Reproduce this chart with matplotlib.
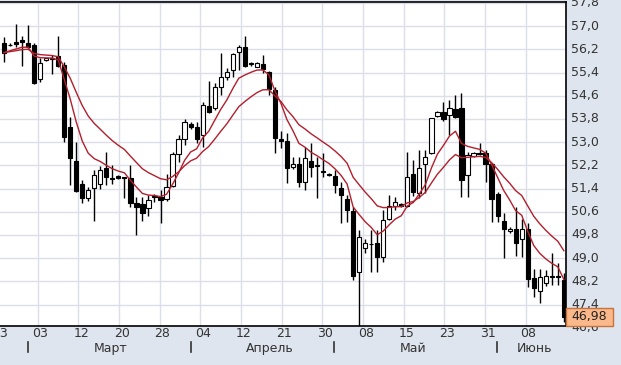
import numpy as np
import pandas as pd
import matplotlib
matplotlib.use("Agg")
import matplotlib.pyplot as plt
import matplotlib.transforms as mtransforms
from matplotlib.patches import Rectangle

# daily candles
opens = [56.43, 56.36, 56.44, 56.52, 56.43, 56.35, 55.17, 55.82, 55.90, 55.97,
         55.66, 53.53, 52.35, 51.55, 51.07, 51.42, 51.56, 52.12, 51.76, 51.83,
         51.78, 51.75, 50.91, 50.87, 50.72, 51.15, 51.12, 51.04, 51.50, 52.59,
         53.11, 53.63, 53.53, 53.25, 54.25, 54.17, 54.91, 55.24, 55.49, 56.10,
         56.29, 55.70, 55.60, 55.69, 55.41, 54.80, 53.11, 53.04, 52.15, 52.25,
         51.64, 52.35, 52.20, 51.99, 51.90, 51.84, 51.41, 51.04, 50.63, 48.51,
         49.34, 49.50, 49.51, 49.05, 50.34, 50.81, 50.86, 50.80, 51.89, 51.26,
         52.24, 52.62, 53.90, 54.03, 53.94, 54.13, 54.17, 51.87, 52.52, 52.64,
         52.64, 52.24, 51.21, 50.29, 49.93, 50.01, 49.65, 50.01, 48.31, 47.87,
         48.13, 48.38, 48.38, 48.25]
highs = [56.62, 56.41, 57.08, 56.66, 57.04, 56.41, 55.89, 55.92, 56.01, 56.66,
         55.78, 53.86, 53.02, 51.69, 51.46, 52.04, 52.19, 52.65, 52.21, 51.86,
         51.80, 52.21, 51.12, 51.12, 51.18, 51.20, 51.35, 51.90, 52.67, 53.25,
         53.79, 53.70, 53.71, 54.40, 55.12, 55.03, 56.09, 55.55, 56.09, 56.35,
         56.66, 55.75, 55.78, 56.01, 55.47, 54.91, 53.40, 53.31, 52.50, 52.50,
         52.85, 52.96, 52.50, 52.62, 51.95, 52.04, 51.64, 51.18, 50.78, 49.97,
         49.65, 49.97, 49.97, 50.66, 51.18, 51.12, 50.90, 52.67, 52.39, 52.73,
         52.73, 53.85, 54.06, 54.40, 54.46, 54.63, 54.69, 52.67, 52.67, 52.96,
         52.73, 52.27, 51.29, 50.55, 50.07, 50.75, 50.34, 50.20, 48.62, 48.62,
         48.59, 49.19, 48.84, 48.48]
lows = [55.78, 56.30, 56.28, 55.64, 56.25, 55.00, 55.09, 55.80, 55.34, 55.58,
        53.02, 51.52, 51.29, 50.91, 50.98, 50.29, 51.39, 51.52, 51.56, 51.73,
        51.07, 50.78, 49.80, 50.29, 50.45, 50.95, 50.20, 50.98, 51.47, 52.33,
        52.90, 53.45, 52.96, 52.85, 54.00, 54.11, 54.63, 55.13, 55.26, 55.49,
        55.60, 55.62, 55.58, 55.38, 54.63, 52.62, 52.79, 51.58, 52.07, 51.44,
        51.35, 51.81, 51.07, 51.81, 51.83, 51.26, 50.20, 50.26, 48.25, 46.55,
        49.17, 48.53, 48.53, 48.88, 50.32, 50.66, 50.78, 50.78, 51.15, 51.07,
        51.24, 52.60, 53.87, 53.74, 53.25, 53.82, 51.10, 51.10, 52.50, 52.56,
        51.64, 50.26, 50.26, 49.02, 49.88, 49.07, 49.05, 48.02, 47.67, 47.47,
        48.04, 48.08, 48.08, 46.81]
closes = [56.09, 56.34, 56.40, 56.45, 56.29, 55.05, 55.74, 55.89, 55.88, 55.64,
          53.19, 52.44, 51.32, 51.07, 51.35, 51.87, 52.04, 51.81, 51.73, 51.76,
          51.77, 50.91, 50.75, 50.57, 51.01, 51.12, 51.01, 51.44, 52.59, 53.10,
          53.68, 53.53, 53.10, 54.28, 54.05, 54.89, 55.26, 55.41, 56.03, 56.29,
          55.64, 55.69, 55.72, 55.51, 54.82, 53.13, 53.04, 52.10, 52.24, 51.64,
          52.44, 52.13, 52.18, 51.97, 51.88, 51.52, 51.18, 50.66, 48.40, 49.72,
          49.51, 49.48, 49.05, 50.32, 50.80, 50.94, 50.81, 51.81, 51.29, 52.10,
          52.50, 53.82, 54.03, 53.79, 54.17, 53.88, 51.70, 52.56, 52.64, 52.60,
          52.24, 51.03, 50.46, 50.01, 50.01, 49.53, 50.01, 48.28, 47.96, 48.36,
          48.40, 48.36, 48.34, 46.98]

day_labels = ["23", "03", "12", "20", "28", "04", "12", "21", "30", "08",
              "15", "23", "31", "08"]
month_labels = ["Март", "Апрель", "Май", "Июнь"]
price_levels = [46.6, 47.4, 48.2, 49.0, 49.8, 50.6, 51.4, 52.2, 53.0, 53.8,
                54.6, 55.4, 56.2, 57.0, 57.8]
last_price = 46.98

n = len(closes)
x = np.arange(n)
ema_fast = pd.Series(closes).ewm(span=7, adjust=False).mean()
ema_slow = pd.Series(closes).ewm(span=15, adjust=False).mean()

fig = plt.figure(figsize=(6.21, 3.65), dpi=100, facecolor="#dfe5ef")
ax = fig.add_axes([0, 39 / 365, 566 / 621, 324 / 365])
ax.set_facecolor("white")
ax.set_xlim(-0.664, 93.36)
ax.set_ylim(46.662, 57.834)

# grid
grid_pos = [5.60 + 6.756 * k for k in range(-1, 13)]
ax.set_xticks(grid_pos)
ax.set_yticks(price_levels)
ax.set_xlim(-0.664, 93.36)
ax.set_ylim(46.662, 57.834)
ax.grid(True, color="#dcdfe9", linewidth=1)
ax.set_axisbelow(True)
ax.tick_params(length=0, labelbottom=False, labelleft=False)

# candles
o = np.array(opens)
c = np.array(closes)
bottoms = np.minimum(o, c)
heights = np.maximum(np.abs(c - o), 0.025)
colors = ["white" if cc >= oo else "black" for oo, cc in zip(o, c)]
ax.vlines(x, lows, highs, color="black", linewidth=1, zorder=2)
ax.bar(x, heights, bottom=bottoms, width=0.7, color=colors,
       edgecolor="black", linewidth=0.8, zorder=3)

ax.plot(x, ema_fast, color="#b21f2d", linewidth=1, zorder=4)
ax.plot(x, ema_slow, color="#b21f2d", linewidth=1, zorder=4)

for side in ["top", "right", "bottom"]:
    ax.spines[side].set_color("black")
    ax.spines[side].set_linewidth(1.2)
ax.spines["left"].set_visible(False)

# right price scale
yt = mtransforms.blended_transform_factory(ax.transAxes, ax.transData)
for v in price_levels:
    ax.text(1.009, v, f"{v:.1f}".replace(".", ","), transform=yt,
            ha="left", va="center", fontsize=9, color="#333333", clip_on=False)

# last price marker
ax.plot([n - 1, 93.36], [last_price, last_price], color="black", lw=1,
        zorder=4, clip_on=False)
ax.add_patch(Rectangle((1.0, last_price - 0.31), 47 / 566, 0.62, transform=yt,
                       facecolor="#fbb98b", edgecolor="#c8733c", lw=1,
                       clip_on=False, zorder=5))
ax.text(1.0 + 23.5 / 566, last_price, f"{last_price:.2f}".replace(".", ","),
        transform=yt, ha="center", va="center", fontsize=9, color="#222222",
        clip_on=False, zorder=6)

# date scale
xt = mtransforms.blended_transform_factory(ax.transData, ax.transAxes)
for pos, lbl in zip(grid_pos, day_labels):
    ax.text(pos + 0.45, -0.0225, lbl, transform=xt, ha="center", va="center",
            fontsize=9, color="#333333", clip_on=False)

sep_pos = [4.04, 31.01, 54.87, 81.84]
for p in sep_pos:
    ax.plot([p, p], [-0.0485, -0.0793], transform=xt, color="#333333",
            lw=1.2, clip_on=False)
month_pos = [17.77, 44.19, 67.94, 88.2]
for p, lbl in zip(month_pos, month_labels):
    ax.text(p, -0.0688, lbl, transform=xt, ha="center", va="center",
            fontsize=9, color="#333333", clip_on=False)

fig.savefig("out.png", dpi=100, facecolor=fig.get_facecolor())
